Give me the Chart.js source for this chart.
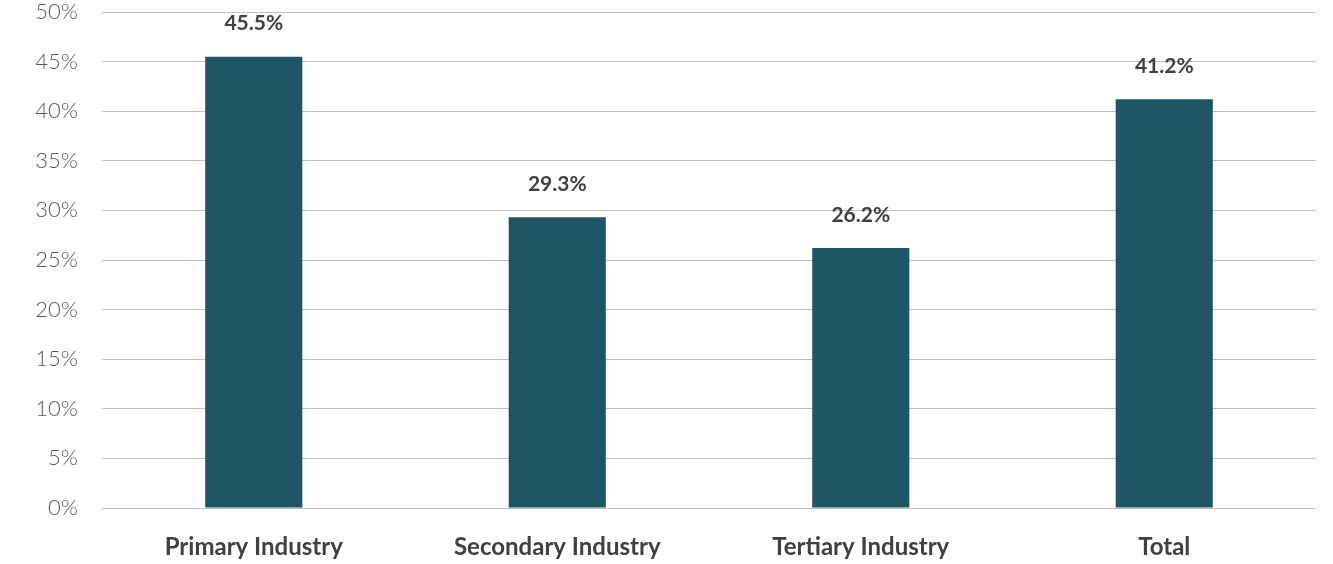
<!DOCTYPE html>
<html>
<head>
<meta charset="utf-8">
<script src="https://cdn.jsdelivr.net/npm/chart.js@4"></script>
<style>
  html, body { margin: 0; padding: 0; background: #fff; }
  #wrap { width: 1333px; height: 564px; }
</style>
</head>
<body>
<div id="wrap"><canvas id="aChart"></canvas></div>
<script>
let categories = ["Primary Industry", "Secondary Industry", "Tertiary Industry", "Total"]
let shares = [45.5, 29.3, 26.2, 41.2]

// writes the value above each bar
let valueLabels = {
  id: "valueLabels",
  afterDatasetsDraw(chart) {
    let ctx = chart.ctx
    ctx.save()
    ctx.font = "bold 21px Lato"
    ctx.fillStyle = "#404040"
    ctx.textAlign = "center"
    ctx.textBaseline = "middle"
    chart.getDatasetMeta(0).data.forEach((bar, i) => {
      ctx.fillText(shares[i].toFixed(1) + "%", bar.x, bar.y - 33)
    })
    ctx.restore()
  },
}

let aChart = new Chart(document.getElementById("aChart"), {
  type: "bar",
  data: {
    labels: categories,
    datasets: [{
      data: shares,
      backgroundColor: "#1f5665",
      barPercentage: 0.8,
      categoryPercentage: 0.4,
    }],
  },
  options: {
    responsive: true,
    maintainAspectRatio: false,
    animation: false,
    layout: { padding: { top: 12, right: 17, left: 0, bottom: 0 } },
    plugins: {
      legend: { display: false },
      tooltip: { enabled: false },
    },
    scales: {
      x: {
        grid: { display: false },
        border: { display: false },
        ticks: {
          padding: 17,
          color: "#404040",
          font: { family: "Lato", size: 24, weight: "bold" },
        },
        afterFit: s => { s.height = 56 },
      },
      y: {
        min: 0,
        max: 50,
        grid: { color: "#bfbfbf", lineWidth: 1, drawTicks: false },
        border: { display: false },
        ticks: {
          stepSize: 5,
          padding: 24,
          color: "#595959",
          font: { family: "Lato", size: 22, weight: 300 },
          callback: v => v + "%",
        },
        afterFit: s => { s.width = 102; s.paddingTop = 0; s.paddingBottom = 0 },
      },
    },
  },
  plugins: [valueLabels],
});
</script>
</body>
</html>
